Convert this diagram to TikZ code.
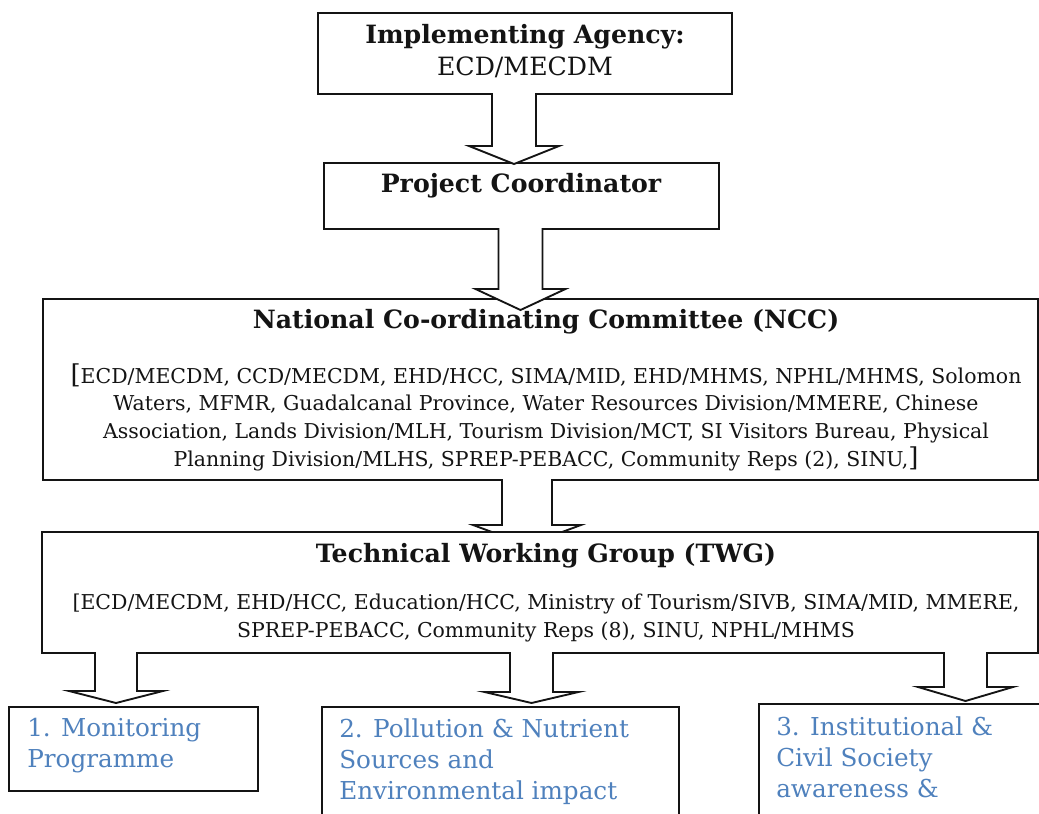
\documentclass[tikz,border=0pt]{standalone}
\usepackage{fontspec}
\setmainfont{DejaVu Serif}
\usetikzlibrary{calc}
\definecolor{ink}{HTML}{141414}
\definecolor{inkblue}{HTML}{4F81BD}

% frame box placed by its top-left corner (coordinates in pixels)
\newcommand\orgbox[5]{\node[box, minimum width=#4*0.75pt, minimum height=#5*0.75pt] (#1) at (#2,#3) {};}
% hollow block arrow: x centre, y top, half shaft, half head, y of wings, y of tip
\newcommand\blockarrow[6]{%
  \draw[barrow] (#1-#3,#2) -- (#1-#3,#5) -- (#1-#4,#5) -- (#1,#6)
    -- (#1+#4,#5) -- (#1+#3,#5) -- (#1+#3,#2);}
% larger square brackets around the committee list
\newcommand\bigbr[1]{{\fontsize{19.5}{20}\selectfont #1}}

\begin{document}
\begin{tikzpicture}[x=0.75pt,y=-0.75pt,
  box/.style={draw=ink, line width=1.4pt, fill=white, rectangle, inner sep=0pt, anchor=north west},
  barrow/.style={draw=ink, line width=1.4pt, fill=white, line join=miter},
  headtext/.style={font=\bfseries\fontsize{18.9}{22}\selectfont, text=ink, inner sep=0pt},
  plaintext/.style={font=\fontsize{18.9}{22}\selectfont, text=ink, inner sep=0pt},
  listtext/.style={font=\fontsize{15.35}{20.8}\selectfont, text=ink, align=center, inner sep=0pt},
  tasktext/.style={font=\fontsize{18.5}{23.25}\selectfont, text=inkblue, align=left, inner sep=0pt, anchor=north west}]
\useasboundingbox (0,0) rectangle (1039,814);
\clip (0,0) rectangle (1039,814);

% implementing agency and coordinator
\orgbox{ia}{317}{12}{414}{81}
\node[headtext] (iaT) at (525,37) {Implementing Agency:};
\node[plaintext] (iaB) at (525,67) {ECD/MECDM};

\orgbox{pc}{323}{162}{395}{66}
\node[headtext] (pcT) at (521,186) {Project Coordinator};
\blockarrow{514}{93}{22}{45}{146}{164}

% national coordinating committee
\orgbox{ncc}{42}{298}{995}{181}
\node[headtext] (nccT) at (546,322) {National Co-ordinating Committee (NCC)};
\node[listtext] (nccB) at (546,417) {\bigbr{[}ECD/MECDM, CCD/MECDM, EHD/HCC, SIMA/MID, EHD/MHMS, NPHL/MHMS, Solomon\\
Waters, MFMR, Guadalcanal Province, Water Resources Division/MMERE, Chinese\\
Association, Lands Division/MLH, Tourism Division/MCT, SI Visitors Bureau, Physical\\
Planning Division/MLHS, SPREP-PEBACC, Community Reps (2), SINU,\bigbr{]}};
\blockarrow{520.5}{228}{22}{45}{289}{310}

% technical working group (drawn over the arrow feeding it)
\blockarrow{527}{479}{25}{54}{525}{545}
\orgbox{twg}{41}{531}{996}{121}
\node[headtext] (twgT) at (546,556) {Technical Working Group (TWG)};
\node[listtext] (twgB) at (546,618) {[ECD/MECDM, EHD/HCC, Education/HCC, Ministry of Tourism/SIVB, SIMA/MID, MMERE,\\
SPREP-PEBACC, Community Reps (8), SINU, NPHL/MHMS};

% work components
\orgbox{c1}{8}{706}{249}{84}
\node[tasktext] (c1T) at (27,718) {1. Monitoring\\Programme};
\orgbox{c2}{321}{706}{357}{130}
\node[tasktext] (c2T) at (339,718) {2. Pollution \& Nutrient\\Sources and\\Environmental impact};
\orgbox{c3}{758}{703}{300}{130}
\node[tasktext] (c3T) at (776,716) {3. Institutional \&\\Civil Society\\awareness \&};

\blockarrow{116}{652}{21}{47}{691}{703}
\blockarrow{531.5}{652}{21.5}{47}{692}{703}
\blockarrow{965.5}{652}{21.5}{47.5}{687}{701}
\end{tikzpicture}
\end{document}
